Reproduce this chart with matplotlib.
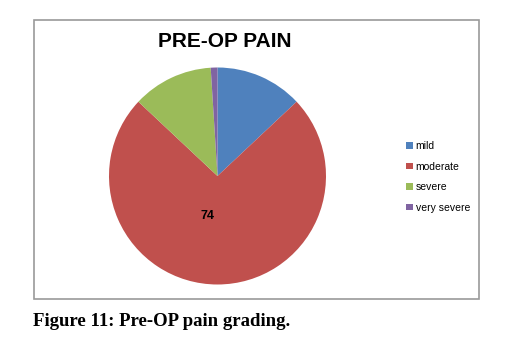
import matplotlib.pyplot as plt
from matplotlib.patches import Rectangle, Patch

# pain grades and counts (percent of patients)
grades = ["mild", "moderate", "severe", "very severe"]
counts = [13, 74, 12, 1]
colors = ["#4F81BD", "#C0504D", "#9BBB59", "#8064A2"]

W, H = 520, 339
fig = plt.figure(figsize=(W / 100, H / 100), dpi=100)

# chart frame
fig.patches.append(Rectangle((34 / W, 1 - 299 / H), 445 / W, 279 / H,
                             transform=fig.transFigure, fill=False,
                             edgecolor="#9a9a9a", lw=1.2))

# pie axes: centre (217.5, 176), radius 108.5 px
cx, cy, r = 217.5, 176, 108.5
ax = fig.add_axes([(cx - r) / W, 1 - (cy + r) / H, 2 * r / W, 2 * r / H])


def show_moderate(p):
    v = p * sum(counts) / 100
    return f"{v:.0f}" if round(v) == 74 else ""


wedges, _, autotexts = ax.pie(counts, colors=colors, startangle=90, counterclock=False,
                              autopct=show_moderate, pctdistance=0.37,
                              wedgeprops=dict(linewidth=0))
for t in autotexts:
    t.set_fontsize(9)
    t.set_fontweight("bold")
    t.set_family("Liberation Sans")
    x, y = t.get_position()
    t.set_position((x - 0.09, y))
ax.set_xlim(-1, 1)
ax.set_ylim(-1, 1)
ax.set_aspect("equal")

fig.text(225 / W, 1 - 41.5 / H, "PRE-OP PAIN", ha="center", va="center",
         fontsize=15, fontweight="bold", family="Liberation Sans")

handles = [Patch(facecolor=c, edgecolor="none") for c in colors]
fig.legend(handles, grades, loc="center left", bbox_to_anchor=(397 / W, 1 - 177 / H),
           frameon=False, prop=dict(family="Liberation Sans", size=7.5),
           handlelength=0.6, handleheight=0.6, handletextpad=0.3, labelspacing=1.0)

fig.text(33 / W, 1 - 321 / H, "Figure 11: Pre-OP pain grading.", ha="left", va="center",
         fontsize=13.5, fontweight="bold", family="Liberation Serif")

fig.savefig("out.png", dpi=100)
